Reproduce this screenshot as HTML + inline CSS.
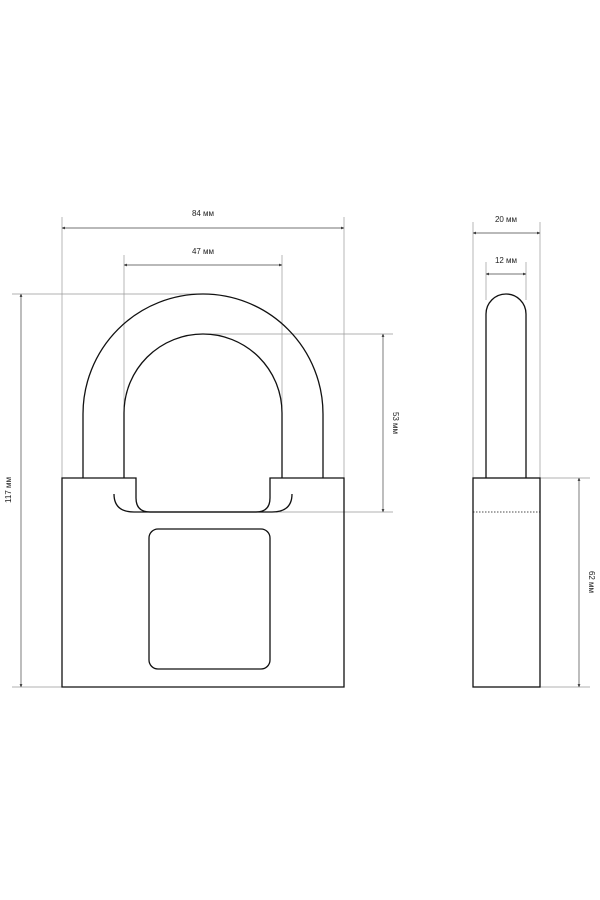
<!DOCTYPE html>
<html><head><meta charset="utf-8"><style>
html,body{margin:0;padding:0;background:#fff;}
svg{display:block;}
text{font-family:"Liberation Sans",sans-serif;font-size:8px;fill:#222;}
</style></head><body>
<svg width="600" height="900" viewBox="0 0 600 900" xmlns="http://www.w3.org/2000/svg">
<defs>
<marker id="a" viewBox="0 0 6 6" refX="6" refY="3" markerWidth="4" markerHeight="4" orient="auto-start-reverse"><path d="M0,0 L6,3 L0,6z" fill="#222"/></marker>
</defs>
<g stroke="#999" stroke-width="0.7" fill="none">
<!-- 84 ext -->
<line x1="62" y1="217" x2="62" y2="478"/>
<line x1="344" y1="217" x2="344" y2="478"/>
<!-- 47 ext -->
<line x1="124" y1="255" x2="124" y2="478"/>
<line x1="282" y1="255" x2="282" y2="478"/>
<!-- 117 ext -->
<line x1="12" y1="294" x2="203" y2="294"/>
<line x1="12" y1="687" x2="62" y2="687"/>
<!-- 53 ext -->
<line x1="203" y1="334" x2="393" y2="334"/>
<line x1="276" y1="512" x2="393" y2="512"/>
<!-- side ext -->
<line x1="473" y1="222" x2="473" y2="478"/>
<line x1="540" y1="222" x2="540" y2="478"/>
<line x1="486" y1="262" x2="486" y2="300"/>
<line x1="526" y1="262" x2="526" y2="300"/>
<line x1="540" y1="478" x2="590" y2="478"/>
<line x1="540" y1="687" x2="590" y2="687"/>
</g>
<g stroke="#444" stroke-width="0.7" fill="none" marker-start="url(#a)" marker-end="url(#a)">
<line x1="62" y1="228" x2="344" y2="228"/>
<line x1="124" y1="265" x2="282" y2="265"/>
<line x1="21" y1="294" x2="21" y2="687"/>
<line x1="383" y1="334" x2="383" y2="512"/>
<line x1="473" y1="233" x2="540" y2="233"/>
<line x1="486" y1="274" x2="526" y2="274"/>
<line x1="579" y1="478" x2="579" y2="687"/>
</g>
<g stroke="#111" stroke-width="1.3" fill="none">
<!-- shackle -->
<path d="M83,478 L83,414 A120,120 0 0 1 323,414 L323,478"/>
<path d="M124,478 L124,413 A79,79 0 0 1 282,413 L282,478"/>
<!-- body -->
<path d="M136,478 L62,478 L62,687 L344,687 L344,478 L270,478 L270,498 Q270,512 256,512 L150,512 Q136,512 136,498 Z"/>
<path d="M114,494 Q114,512 134,512 L272,512 Q292,512 292,494"/>
<rect x="149" y="529" width="121" height="140" rx="9"/>
<!-- side -->
<path d="M486,478 L486,314 A20,20 0 0 1 526,314 L526,478"/>
<rect x="473" y="478" width="67" height="209"/>
<line x1="473" y1="512" x2="540" y2="512" stroke-width="0.8" stroke-dasharray="1.5,1.5"/>
</g>
<text x="203" y="216" text-anchor="middle">84 мм</text>
<text x="203" y="254" text-anchor="middle">47 мм</text>
<text x="506" y="222" text-anchor="middle">20 мм</text>
<text x="506" y="263" text-anchor="middle">12 мм</text>
<text transform="translate(393,423) rotate(90)" text-anchor="middle">53 мм</text>
<text transform="translate(589,582) rotate(90)" text-anchor="middle">62 мм</text>
<text transform="translate(11,490) rotate(-90)" text-anchor="middle">117 мм</text>
</svg>
</body></html>
